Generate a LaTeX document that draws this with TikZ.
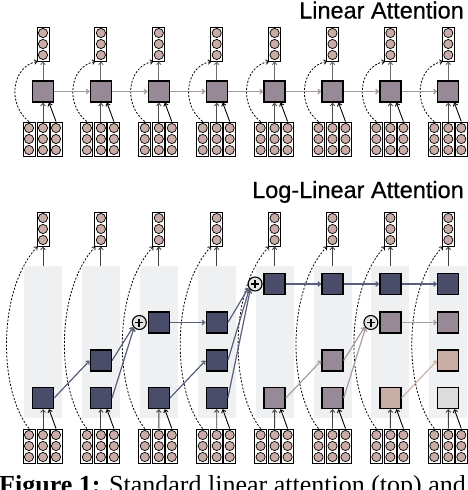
\documentclass[tikz,border=0pt]{standalone}
\usepackage{fontspec}
\setmainfont{Liberation Serif}
\newfontfamily\titlefont[FakeBold=0.5]{Liberation Sans}
\usetikzlibrary{arrows.meta,calc}
\definecolor{circfill}{HTML}{C8ACA5}
\definecolor{mauve}{HTML}{978A96}
\definecolor{navy}{HTML}{4A4D6A}
\definecolor{beige}{HTML}{C9AEA6}
\definecolor{lgray}{HTML}{DCDCDC}
\definecolor{colbg}{HTML}{EFF0F2}
\definecolor{navyline}{HTML}{5B5E7A}
\definecolor{mauveline}{HTML}{AA9CA5}
\definecolor{beigeline}{HTML}{CDB3AB}
\definecolor{topline}{HTML}{A5989F}
\definecolor{plusfill}{HTML}{E2E2E2}
\begin{document}
\begin{tikzpicture}[x=1pt,y=-1pt,
  >={Straight Barb[length=2.6pt,width=4.6pt]},
  vecbox/.style={draw=black, line width=0.9pt, fill=white, minimum width=12pt,
    minimum height=34pt, inner sep=0pt,
    path picture={\foreach \dy in {-11,0,11}{\draw[line width=0.7pt, fill=circfill]
      ($(path picture bounding box.center)+(0,\dy)$) circle[radius=4.6];}}},
  sq/.style={draw=black, line width=1.3pt, minimum size=21pt, inner sep=0pt},
  plusnode/.style={circle, draw=black, line width=1.1pt, fill=plusfill,
    minimum size=14pt, inner sep=0pt,
    path picture={\draw[line width=1.7pt]
      ($(path picture bounding box.center)+(-4,0)$) -- ($(path picture bounding box.center)+(4,0)$)
      ($(path picture bounding box.center)+(0,-4)$) -- ($(path picture bounding box.center)+(0,4)$);}},
  colband/.style={fill=colbg, minimum width=38pt, minimum height=152pt, inner sep=0pt},
  dashlink/.style={->, black, line width=0.8pt, dash pattern=on 2pt off 1.6pt},
  uplink/.style={->, line width=0.9pt},
  toparrow/.style={->, topline, line width=1.3pt},
  navyarrow/.style={->, navyline, line width=1.2pt},
  mauvearrow/.style={->, mauveline, line width=1.2pt},
  beigearrow/.style={->, beigeline, line width=1.2pt},
  titletext/.style={font=\titlefont\fontsize{23.5}{23.5}\selectfont, inner sep=0pt}
]
\useasboundingbox (0,0) rectangle (468,490);

% ---------------- titles
\node[titletext, anchor=base east] (t1) at (464,18.5) {Linear Attention};
\node[titletext, anchor=base east] (t2) at (464,198) {Log-Linear Attention};

% ---------------- top: linear attention
\foreach \i [evaluate=\i as \cx using 43+57.9*(\i-1)] in {1,...,8}{
  \node[sq, fill=mauve] (ts\i) at (\cx,91.5) {};
  \node[vecbox] (to\i) at (\cx,44) {};
  \node[vecbox] (ta\i) at (\cx-14,139) {};
  \node[vecbox] (tb\i) at (\cx,139) {};
  \node[vecbox] (tc\i) at (\cx+13,139) {};
  \draw[uplink, gray!85!black] (ts\i.north) -- (to\i.south);
  \draw[uplink, black!70] (tb\i.north) -- (ts\i.south);
  \draw[uplink, black] (tc\i.north) -- ($(ts\i.south)+(6,0)$);
  \draw[dashlink] (ta\i.north) .. controls +(-22,-17) and +(-26,5) .. ($(to\i.south west)+(1,0)$);
}
\foreach \i/\j in {1/2,2/3,3/4,4/5,5/6,6/7,7/8}{
  \draw[toparrow] (ts\i.east) -- (ts\j.west);
}

% ---------------- bottom: log-linear attention
\foreach \i [evaluate=\i as \cx using 43+57.9*(\i-1)] in {1,...,8}{
  \node[colband] (g\i) at (\cx,342) {};
  \node[vecbox] (lo\i) at (\cx,229) {};
  \node[vecbox] (la\i) at (\cx-14,446) {};
  \node[vecbox] (lb\i) at (\cx,446) {};
  \node[vecbox] (lc\i) at (\cx+13,446) {};
  \draw[uplink, black!75] (g\i.north) -- (lo\i.south);
}

% squares: row 1 = 398, row 2 = 360.5, row 3 = 322.5, row 4 = 284
\node[sq, fill=navy] (b1r1) at (43,398) {};

\node[sq, fill=navy] (b2r1) at (100.9,398) {};
\node[sq, fill=navy] (b2r2) at (100.9,360.5) {};

\node[sq, fill=navy] (b3r1) at (158.8,398) {};
\node[sq, fill=navy] (b3r3) at (158.8,322.5) {};
\node[plusnode] (p3) at (139.3,322.5) {};

\node[sq, fill=navy] (b4r1) at (216.7,398) {};
\node[sq, fill=navy] (b4r2) at (216.7,360.5) {};
\node[sq, fill=navy] (b4r3) at (216.7,322.5) {};

\node[sq, fill=mauve] (b5r1) at (274.6,398) {};
\node[sq, fill=navy] (b5r4) at (274.6,284) {};
\node[plusnode] (p5) at (255.1,284) {};

\node[sq, fill=mauve] (b6r1) at (332.5,398) {};
\node[sq, fill=mauve] (b6r2) at (332.5,360.5) {};
\node[sq, fill=navy] (b6r4) at (332.5,284) {};

\node[sq, fill=beige] (b7r1) at (390.4,398) {};
\node[sq, fill=mauve] (b7r3) at (390.4,322.5) {};
\node[sq, fill=navy] (b7r4) at (390.4,284) {};
\node[plusnode] (p7) at (370.9,322.5) {};

\node[sq, fill=lgray] (b8r1) at (448.3,398) {};
\node[sq, fill=beige] (b8r2) at (448.3,360.5) {};
\node[sq, fill=mauve] (b8r3) at (448.3,322.5) {};
\node[sq, fill=navy] (b8r4) at (448.3,284) {};

% inputs to bottom squares and dashed links
\foreach \i in {1,...,8}{
  \draw[uplink, black!75] (lb\i.north) -- (b\i r1.south);
  \draw[uplink, black] (lc\i.north) -- ($(b\i r1.south)+(6,0)$);
  \draw[dashlink] (la\i.north) .. controls +(-31,-39) and +(-40,43) .. ($(lo\i.south west)+(1,0)$);
}

% state passing
\draw[navyarrow] (b1r1.east) -- (b2r2.west);
\draw[navyarrow] (b2r2.east) -- (p3.215);
\draw[navyarrow] (b2r1.east) -- (p3.225);
\draw[navyarrow] (b3r3.east) -- (b4r3.west);
\draw[navyarrow] (b3r1.east) -- (b4r2.west);
\draw[navyarrow] (b4r3.east) -- (p5.210);
\draw[navyarrow] (b4r2.east) -- (p5.220);
\draw[navyarrow] (b4r1.east) -- (p5.230);
\draw[navyarrow] (b5r4.east) -- (b6r4.west);
\draw[navyarrow] (b6r4.east) -- (b7r4.west);
\draw[navyarrow] (b7r4.east) -- (b8r4.west);
\draw[mauvearrow] (b5r1.east) -- (b6r2.west);
\draw[mauvearrow] (b6r2.east) -- (p7.215);
\draw[mauvearrow] (b6r1.east) -- (p7.225);
\draw[mauvearrow] (b7r3.east) -- (b8r3.west);
\draw[beigearrow] (b7r1.east) -- (b8r2.west);

% caption (cut by the lower edge, as in the source)
\node[anchor=base west, inner sep=0pt, font=\fontsize{26}{26}\selectfont] (cap) at (-1,493)
  {\textbf{Figure 1:} Standard linear attention (top) and};
\end{tikzpicture}
\end{document}
